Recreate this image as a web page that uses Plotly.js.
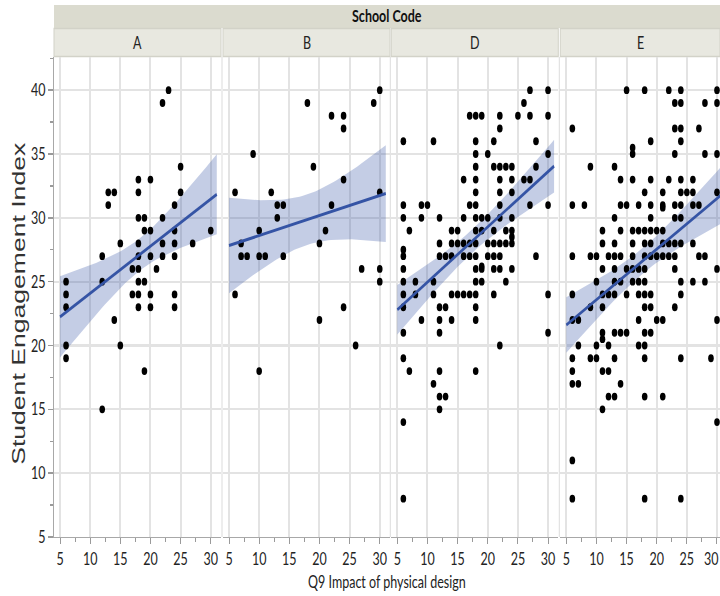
<!DOCTYPE html>
<html>
<head>
<meta charset="utf-8">
<script src="https://cdn.plot.ly/plotly-3.0.1.min.js"></script>
<style>
html,body{margin:0;padding:0;background:#fff;overflow:hidden}
#wrap{width:720px;height:596px;overflow:hidden}
#plot{width:720px;height:426px;transform:scaleY(1.39906);transform-origin:0 0}
</style>
</head>
<body>
<div id="wrap"><div id="plot"></div></div>
<script>
// ---- data ----
const schools = ["A", "B", "D", "E"];
const xTickVals = [5, 10, 15, 20, 25, 30];
const yTickVals = [5, 10, 15, 20, 25, 30, 35, 40];

const A_x = [23,22,25,18,20,13,14,18,25,13,24,18,19,22,19,20,24,30,15,18,22,24,27,12,18,20,22,24,17,18,21,6,12,18,19,6,17,18,20,24,6,18,20,24,14,6,15,6,19,12];
const A_y = [40,39,34,33,33,32,32,32,32,31,31,30,30,30,29,29,29,29,28,28,28,28,28,27,27,27,27,27,26,26,26,25,25,25,25,24,24,24,24,24,23,23,23,23,22,20,20,19,18,15];

const B_x = [30,18,29,22,24,24,9,19,24,6,12,30,13,14,22,13,10,21,7,20,7,8,10,11,14,27,30,30,6,24,20,26,10];
const B_y = [40,39,39,38,38,37,35,34,33,32,32,32,31,31,31,30,29,29,28,28,27,27,27,27,27,26,26,25,24,23,22,20,18];

const D_x = [
27,30,
26,
17,18,19,22,25,27,30,
22,
6,11,18,21,28,
18,20,30,
18,21,22,23,24,28,
16,18,22,24,26,27,
18,22,24,
6,9,10,17,18,22,27,30,
6,9,12,16,18,19,20,22,24,
7,14,15,18,19,21,23,24,
24,
12,14,15,16,17,18,20,21,22,23,24,
6,
6,12,13,14,16,17,18,20,21,22,28,
19,
6,18,19,21,22,24,
6,8,11,18,19,23,
6,8,11,14,15,16,17,18,21,30,
6,12,13,18,
9,12,14,18,
6,12,30,
22,
6,
7,12,18,
11,
12,13,
12,
6,
6];
const D_y = [
40,40,
39,
38,38,38,38,38,38,38,
37,
36,36,36,36,36,
35,35,35,
34,34,34,34,34,34,
33,33,33,33,33,33,
32,32,32,
31,31,31,31,31,31,31,31,
30,30,30,30,30,30,30,30,30,
29,29,29,29,29,29,29,29,
28.5,
28,28,28,28,28,28,28,28,28,28,28,
27.5,
27,27,27,27,27,27,27,27,27,27,27,
26.2,
26,26,26,26,26,26,
25,25,25,25,25,25,
24,24,24,24,24,24,24,24,24,24,
23,23,23,23,
22,22,22,22,
21,21,21,
20,
19,
18,18,18,
17,
16,16,
15,
14,
8];

const E_x = [
15,18,22,24,30,
23,24,28,30,
6,23,24,27,
19,24,
16,
16,23,28,30,
9,13,
14,16,19,22,24,26,
18,21,24,25,26,30,
6,8,14,15,17,19,21,23,24,26,27,
21,
13,19,23,24,
11,14,16,17,18,19,20,21,
11,13,16,18,19,21,22,23,24,26,
6,9,10,12,13,14,16,18,19,20,21,22,23,27,28,
11,13,15,16,17,18,23,30,
10,13,14,16,17,18,24,26,28,
6,11,12,13,15,17,18,19,24,
9,11,18,19,23,
6,7,17,20,21,30,
11,13,14,15,18,19,
11,
7,10,12,17,18,
6,9,10,13,18,24,29,
6,11,12,
6,7,14,
12,13,18,21,
11,
30,
6,
6,18,24];
const E_y = [
40,40,40,40,40,
39,39,39,39,
37,37,37,37,
36,36,
35.5,
35,35,35,35,
34,34,
33,33,33,33,33,33,
32,32,32,32,32,32,
31,31,31,31,31,31,31,31,31,31,31,
30.8,
30,30,30,30,
29,29,29,29,29,29,29,29,
28,28,28,28,28,28,28,28,28,28,
27,27,27,27,27,27,27,27,27,27,27,27,27,27,27,
26,26,26,26,26,26,26,26,
25,25,25,25,25,25,25,25,25,
24,24,24,24,24,24,24,24,24,
23,23,23,23,23,
22,22,22,22,22,22,
21,21,21,21,21,21,
20.5,
20,20,20,20,20,
19,19,19,19,19,19,19,
18,18,18,
17,17,17,
16,16,16,16,
15,
14,
11,
8,8,8];

// ---- styling / geometry (pixel positions in the 720x596 picture) ----
const panelPx = [[54,221],[223,390],[391.3,558.3],[560.3,720]];
const xRanges = [[4,31.7],[4,31.7],[4,31.7],[4,30.5]];
const plotTop = 57, plotBottom = 537, W = 720, H = 596;
const LINE_C = '#3554a5', BAND_C = 'rgba(58,90,170,0.30)';
const FONT = 'Lato, "Open Sans", sans-serif';

const xsAll = [A_x, B_x, D_x, E_x];
const ysAll = [A_y, B_y, D_y, E_y];

function tq(df){ const z=1.959964; return z + (z**3+z)/(4*df) + (5*z**5+16*z**3+3*z)/(96*df*df); }
function fit(xs, ys, lo, hi){
  const n = xs.length;
  const mx = xs.reduce((a,b)=>a+b,0)/n, my = ys.reduce((a,b)=>a+b,0)/n;
  let sxx=0, sxy=0;
  for (let i=0;i<n;i++){ sxx+=(xs[i]-mx)**2; sxy+=(xs[i]-mx)*(ys[i]-my); }
  const b = sxy/sxx, a = my - b*mx;
  let sse=0; for (let i=0;i<n;i++){ sse+=(ys[i]-a-b*xs[i])**2; }
  const s = Math.sqrt(sse/(n-2)), t = tq(n-2);
  const lx=[], ly=[], up=[], dn=[];
  const steps = 60;
  for (let k=0;k<=steps;k++){
    const x = lo + (hi-lo)*k/steps;
    const yh = a + b*x;
    const se = s*Math.sqrt(1/n + (x-mx)**2/sxx);
    lx.push(x); ly.push(yh); up.push(yh+t*se); dn.push(yh-t*se);
  }
  return {lx, ly, up, dn};
}

const allX = [].concat(...xsAll);
const lo = Math.min(...allX) - 1, hi = Math.max(...allX) + 1;

const traces = [];
schools.forEach((s, i) => {
  const xa = i===0 ? 'x' : 'x'+(i+1);
  const f = fit(xsAll[i], ysAll[i], lo, hi);
  traces.push({type:'scatter', mode:'lines', xaxis:xa, yaxis:'y',
    x: f.lx.concat(f.lx.slice().reverse()), y: f.up.concat(f.dn.slice().reverse()),
    fill:'toself', fillcolor:BAND_C, line:{width:0}, hoverinfo:'skip'});
  traces.push({type:'scatter', mode:'markers', xaxis:xa, yaxis:'y',
    x: xsAll[i], y: ysAll[i], marker:{color:'#000', size:5.6}});
  traces.push({type:'scatter', mode:'lines', xaxis:xa, yaxis:'y',
    x: f.lx, y: f.ly, line:{color:LINE_C, width:2.2}});
});

const layout = {
  width: 720, height: 426,
  margin:{l:0,r:0,t:0,b:0},
  paper_bgcolor:'#fff', plot_bgcolor:'#fff',
  showlegend:false,
  font:{family:FONT, color:'#222', size:12.5},
  shapes:[], annotations:[]
};

const yDom = [1-plotBottom/H, 1-plotTop/H];
schools.forEach((s, i) => {
  const key = i===0 ? 'xaxis' : 'xaxis'+(i+1);
  layout[key] = {
    domain:[panelPx[i][0]/W, panelPx[i][1]/W], anchor:'y', range:xRanges[i],
    tickvals:xTickVals, ticktext:xTickVals.map(String), ticklabeloverflow:'allow',
    showgrid:true, gridcolor:'#e3e3e3', gridwidth:2, zeroline:false,
    ticks:'outside', ticklen:4, tickwidth:1, tickcolor:'#9a9a9a',
    showline:true, linecolor:'#a8a8a8', linewidth:1,
    minor:{ticks:'outside', ticklen:2.5, tickcolor:'#9a9a9a', dtick:2.5, tick0:5, showgrid:false},
    tickfont:{family:FONT, size:12.5, color:'#222'}, fixedrange:true
  };
});
layout.yaxis = {
  domain:yDom, anchor:'x', range:[5, 42.6],
  tickvals:yTickVals, ticktext:yTickVals.map(String),
  showgrid:true, gridcolor:'#e3e3e3', gridwidth:1.5, zeroline:false,
  ticks:'outside', ticklen:5, tickwidth:1, tickcolor:'#9a9a9a',
  showline:true, linecolor:'#a8a8a8', linewidth:1,
  minor:{ticks:'outside', ticklen:3, tickcolor:'#9a9a9a', dtick:2.5, tick0:5, showgrid:false},
  tickfont:{family:FONT, size:12.5, color:'#222'}, fixedrange:true
};

// header band
layout.shapes.push({type:'rect', xref:'paper', yref:'paper', x0:54/W, x1:1, y0:1-28/H, y1:1-5/H,
  fillcolor:'#dbdbcf', line:{width:0}, layer:'below'});
layout.annotations.push({xref:'paper', yref:'paper', x:(54+720)/2/W, y:1-16/H, text:'<b>School Code</b>',
  showarrow:false, xanchor:'center', yanchor:'middle', font:{family:FONT, size:12.5, color:'#111'}});
schools.forEach((s, i) => {
  layout.shapes.push({type:'rect', xref:'paper', yref:'paper', x0:panelPx[i][0]/W, x1:panelPx[i][1]/W,
    y0:1-56.5/H, y1:1-28.5/H, fillcolor:'#e8e8e0', line:{color:'#d2d2c8', width:1}, layer:'below'});
  layout.annotations.push({xref:'paper', yref:'paper', x:(panelPx[i][0]+panelPx[i][1])/2/W, y:1-43/H,
    text:s, showarrow:false, xanchor:'center', yanchor:'middle', font:{family:FONT, size:12.5, color:'#222'}});
  if (i>0) layout.shapes.push({type:'line', xref:'paper', yref:'paper', x0:(panelPx[i][0]-1)/W, x1:(panelPx[i][0]-1)/W,
    y0:yDom[0], y1:yDom[1], line:{color:'#dcdcdc', width:1}, layer:'below'});
});
layout.annotations.push({xref:'paper', yref:'paper', x:18/W, y:1-304/H, text:'Student Engagement Index',
  textangle:-90, showarrow:false, xanchor:'center', yanchor:'middle',
  font:{family:'"Liberation Sans", Arial, sans-serif', size:19, color:'#333'}});
layout.annotations.push({xref:'paper', yref:'paper', x:387/W, y:1-581/H, text:'Q9 Impact of physical design',
  showarrow:false, xanchor:'center', yanchor:'middle', font:{family:FONT, size:12.5, color:'#222'}});

Plotly.newPlot('plot', traces, layout, {staticPlot:true, displayModeBar:false}).then(gd => {
  // keep the last tick label of the right-most panel inside the picture, as in the reference
  gd.querySelectorAll('.x4tick text').forEach(t => {
    if (t.textContent === String(xTickVals[xTickVals.length-1])) {
      t.setAttribute('text-anchor', 'end');
      t.setAttribute('x', String(parseFloat(t.getAttribute('x') || 0) + 1.5));
    }
  });
});
</script>
</body>
</html>
